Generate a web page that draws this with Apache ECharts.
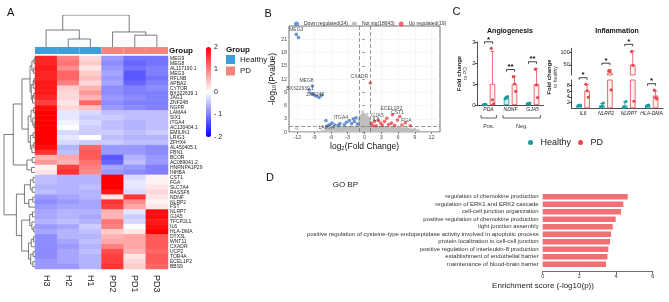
<!DOCTYPE html>
<html>
<head>
<meta charset="utf-8">
<script src="https://cdn.jsdelivr.net/npm/echarts@6/dist/echarts.min.js"></script>
<style>
  html, body { margin: 0; padding: 0; background: #fff; }
  #chart { width: 669px; height: 302px; }
</style>
</head>
<body>
<div id="chart"></div>
<script>
// ---------- Panel A: heatmap ----------
const sampleNames = ["H3", "H2", "H1", "PD2", "PD1", "PD3"];
const sampleGroups = ["Healthy", "Healthy", "Healthy", "PD", "PD", "PD"];
const geneNames = [
  "MEG9", "MEG8", "AL117190.1", "MEG3", "RFLNB", "APBA2", "CYTOR", "BX322639.1",
  "JAG1", "ZNF248", "NGFR", "LAMA4", "SIX1", "ITGA4", "AC130404.1", "EMILIN1",
  "LRIG3", "ZFHX4", "AL450405.1", "FBN1", "BCOR", "AC089041.2", "HNRNPA1P29", "INHBA",
  "CST1", "FGA", "SLC7A4", "RASSF6", "NDNF", "NLRP2", "FST", "NLRP7", "GJA5",
  "TFCP2L1", "IL6", "HLA-DMA", "DTX3L", "WNT11", "CXADR", "UCP2", "TOR4A", "ECEL1P2", "BBS9"
];
// z-scores, columns in sampleNames order
const heatValues = [
  [1.7, 1.0, 0.3, -0.8, -1.1, -1.1],
  [1.7, 1.1, 0.4, -0.9, -1.2, -1.1],
  [1.8, 0.9, 0.2, -0.8, -1.1, -1.0],
  [1.7, 1.2, 0.4, -0.7, -1.3, -1.0],
  [1.7, 1.2, 0.5, -0.8, -1.3, -1.1],
  [1.8, 1.0, 0.3, -0.7, -1.2, -1.0],
  [1.8, 0.4, 0.6, -0.9, -1.0, -0.9],
  [1.8, 0.3, 0.8, -0.9, -1.0, -1.0],
  [1.7, 0.3, 0.6, -0.8, -0.9, -1.0],
  [1.5, 0.2, 1.2, -0.9, -1.0, -1.0],
  [1.9, 0.3, 0.5, -0.8, -0.9, -1.0],
  [2.0, -0.2, -0.3, -0.5, -0.5, -0.5],
  [2.0, -0.2, -0.4, -0.4, -0.5, -0.5],
  [2.0, -0.1, -0.3, -0.5, -0.6, -0.5],
  [2.0, 0.0, -0.4, -0.5, -0.6, -0.5],
  [2.0, -0.3, -0.4, -0.4, -0.5, -0.4],
  [2.0, -0.2, 0.0, -0.5, -0.6, -0.6],
  [2.0, -0.3, -0.4, -0.4, -0.5, -0.5],
  [1.9, -0.6, 1.2, -0.8, -0.8, -0.9],
  [1.6, -0.5, 1.3, -0.8, -0.8, -0.9],
  [0.6, 0.7, 1.3, -1.3, -0.6, -0.8],
  [0.8, 0.6, 1.1, -1.2, -0.5, -0.8],
  [0.1, 1.5, 1.0, -0.7, -0.8, -1.0],
  [0.2, 1.6, 0.9, -0.8, -0.9, -1.0],
  [-0.5, -0.6, -0.6, 2.0, -0.3, 0.1],
  [-0.5, -0.6, -0.6, 2.0, -0.2, 0.1],
  [-0.6, -0.6, -0.5, 2.0, -0.2, 0.2],
  [-0.5, -0.6, -0.6, 1.8, -0.3, 0.3],
  [-0.8, -0.7, -0.6, 0.2, 1.6, 0.2],
  [-0.9, -0.8, -0.7, 1.6, 0.9, 0.1],
  [-0.8, -0.7, -0.7, 1.5, 0.7, 0.2],
  [-0.7, -0.6, -0.6, 0.6, -0.2, 1.9],
  [-0.7, -0.6, -0.7, 0.6, -0.4, 1.9],
  [-0.6, -0.5, -0.6, 1.1, -0.3, 1.8],
  [-0.8, -0.7, -0.4, 1.0, 0.0, 1.9],
  [-0.7, -0.6, -0.5, 0.4, 0.2, 2.0],
  [-0.9, -0.6, -0.6, 0.6, 0.7, 1.3],
  [-0.9, -0.7, -0.5, 0.7, 0.7, 1.3],
  [-0.9, -0.8, -0.6, 1.0, 0.7, 1.3],
  [-0.9, -0.7, -0.5, 1.4, 0.6, 1.2],
  [-0.9, -0.7, -0.6, 1.5, 0.2, 1.3],
  [-0.8, -0.7, -0.6, 1.5, 0.3, 1.3],
  [-0.8, -0.8, -0.6, 1.6, 0.4, 1.2]
];
// clustering trees: [height, left, right], leaves are row/column indices
const rowTree =
  [10,
    [7.0,
      [4.2,
        [1.6,
          [1.0, [0.3, 0, 1], [0.5, 2, 3]],
          [1.2, [0.6, [0.3, 4, 5], 6], [0.8, [0.4, 7, 8], 9]]],
        [2.2,
          [1.3, [0.5, 10, 11], [0.7, 12, [0.3, 13, 14]]],
          [1.5, [0.6, 15, 16], [1.0, [0.4, 17, 18], 19]]]],
      [2.6, [0.9, 20, 21], [1.1, 22, 23]]],
    [6.0,
      [3.4,
        [1.5, [0.6, 24, 25], [0.9, 26, 27]],
        [2.0, [0.7, 28, 29], 30]],
      [4.3,
        [1.7, [0.8, 31, 32], [1.0, 33, [0.4, 34, 35]]],
        [2.1, [1.2, [0.5, 36, 37], 38], [1.4, [0.6, 39, 40], [0.7, 41, 42]]]]]];
const colTree = [10, [5.3, 0, [2.5, 1, 2]], [4.7, 3, [3.7, 4, 5]]];

// ---------- Panel B: volcano ----------
const downPoints = [
  [-12.2, 22.1, "MEG3"], [-11.8, 21.4, ""], [-9.3, 10.4, "MEG8"], [-9.9, 9.5, "BX322639.1"],
  [-9.5, 8.7, ""], [-9.0, 8.4, ""], [-8.6, 8.1, ""], [-8.1, 7.8, "ZNF248"], [-7.7, 8.3, ""],
  [-6.6, 1.4, "LAMA4"], [-6.9, 2.6, ""], [-6.2, 1.7, ""], [-5.8, 2.0, ""], [-5.3, 1.6, ""],
  [-4.4, 1.9, "ITGA4"], [-4.7, 1.5, ""], [-3.6, 1.7, ""], [-3.2, 2.2, ""], [-2.7, 2.6, ""],
  [-2.3, 1.9, ""], [-2.0, 3.0, ""], [-1.8, 2.4, ""], [-1.5, 3.2, ""], [-1.3, 1.8, ""]
];
const upPoints = [
  [1.04, 11.1, "CXADR"], [1.2, 2.0, ""], [1.5, 1.5, "IL6"], [1.8, 2.4, ""], [2.1, 1.4, ""],
  [2.5, 2.6, "GJA5"], [2.9, 2.0, ""], [3.2, 1.5, ""], [3.6, 2.4, ""], [4.0, 3.1, ""],
  [4.3, 1.7, ""], [4.8, 2.0, ""], [5.0, 3.9, "ECEL1P2"], [5.4, 1.5, ""], [5.9, 2.7, ""],
  [6.3, 3.5, "CST1"], [6.7, 1.6, ""], [7.3, 2.1, ""], [8.2, 1.4, "FGA"]
];
// outline of the dense cloud of non-significant genes
const notSigOutline = [
  [-7.3, 0], [-7.0, 0.5], [-6.0, 0.8], [-5.0, 1.0], [-3.0, 1.2], [-1.1, 1.3], [-1.0, 3.0],
  [-0.6, 3.9], [-0.2, 4.3], [0.3, 3.7], [0.8, 3.3], [1.0, 2.6], [1.1, 1.3], [3.0, 1.2],
  [5.0, 1.1], [7.0, 0.9], [8.5, 0.6], [9.5, 0.3], [9.8, 0]
];
const notSigStray = [
  [-12.2, 0.8], [-7.6, 0.3], [-6.9, 1.0], [-4.2, 1.2], [7.6, 1.0], [9.0, 0.7], [9.6, 0.4],
  [-0.4, 4.6], [0.5, 4.1]
];
const fcCutoffs = [-1, 1];
const pCutoff = 1.3;
const volXTicks = [-12, -9, -6, -3, 0, 3, 6, 9, 12];
const volYTicks = [0, 3, 6, 9, 12, 15, 18, 21];
const volLegend = ["Down regulated(24)", "Not sig(18643)", "Up regulated(19)"];

// ---------- Panel C: qPCR bars ----------
const angioGenes = ["PDA", "NDNF", "GJA5"];
const angioHealthyMean = [0.02, 0.35, 0.07];
const angioHealthyUpper = [0.04, 0.41, 0.1];
const angioHealthyPts = [[0.01, 0.02, 0.03], [0.3, 0.35, 0.4], [0.05, 0.07, 0.09]];
const angioPDMean = [1.0, 1.0, 1.0];
const angioPDUpper = [2.55, 1.38, 1.75];
const angioPDPts = [[2.7, 0.25, 0.05], [1.35, 1.0, 0.65], [1.7, 0.95, 0.35]];
const angioSig = ["*", "**", "**"];
const angioGroupNames = ["Pos.", "Neg."];
const angioGroupFrom = [0, 1];
const angioGroupTo = [0, 2];

const inflGenes = ["IL6", "NLRP2", "NLRP7", "HLA-DMA"];
const inflHealthyMean = [1.0, 1.0, 1.0, 1.0];
const inflHealthyUpper = [1.1, 1.7, 2.2, 1.1];
const inflHealthyPts = [[0.9, 1.0, 1.1], [0.5, 0.7, 1.8], [0.3, 0.3, 2.4], [0.8, 1.0, 1.1]];
const inflPDMean = [6.2, 19.2, 50.8, 4.5];
const inflPDUpper = [8.4, 31, 105, 6.1];
const inflPDPts = [[8.5, 6.2, 3.9], [27, 24, 6.5], [102, 48, 2.5], [6.4, 3.8, 3.3]];
const inflSig = ["*", "*", "*", "*"];
const inflLowTicks = [0, 2, 4, 6, 8, 10];
const inflHighTicks = [50, 100];

// ---------- Panel D: GO BP ----------
const goTerms = [
  "regulation of chemokine production",
  "regulation of ERK1 and ERK2 cascade",
  "cell-cell junction organization",
  "positive regulation of chemokine production",
  "tight junction assembly",
  "positive regulation of cysteine-type endopeptidase activity involved in apoptotic process",
  "protein localization to cell-cell junction",
  "positive regulation of interleukin-8 production",
  "establishment of endothelial barrier",
  "maintenance of blood-brain barrier"
];
const goScores = [4.64, 4.40, 4.27, 3.98, 3.82, 3.73, 3.67, 3.58, 3.53, 3.45];

// ---------- styles ----------
const FONT = '"Liberation Sans", Arial, sans-serif';
const GROUP_COLORS = { Healthy: "#3C9FD9", PD: "#F4847C" };
const TEAL = "#1E9A9A";
const RED = "#E5484D";
const VOL_BLUE = "#4B7CC2";
const VOL_RED = "#E6474B";
const VOL_GREY = "#BEBEBE";
const BAR_W = 5.5;
const BAR_OFF = (BAR_W * 1.45) / 2;
const DOT_JITTER = [-1.2, 0, 1.2];
const volLabelOffset = {
  MEG3: [0, -5], MEG8: [-6, -5], "BX322639.1": [-9, -1], ZNF248: [-4, -3],
  LAMA4: [-1, 2], ITGA4: [1, -6], CXADR: [-11, -6], ECEL1P2: [-1, -6],
  GJA5: [-1, -5], IL6: [3, -6], CST1: [-2, -4], FGA: [-4, -5]
};

// ---------- helpers ----------
function treeSegments(node, horizontal, out) {
  if (typeof node === "number") return [node, 0];
  const [h, a, b] = node;
  const pa = treeSegments(a, horizontal, out);
  const pb = treeSegments(b, horizontal, out);
  const pts = [[pa[0], pa[1]], [pa[0], h], [pb[0], h], [pb[0], pb[1]]];
  out.push({ coords: horizontal ? pts.map((p) => [p[1], p[0]]) : pts });
  return [(pa[0] + pb[0]) / 2, h];
}

function errorBarSeries(grid, means, uppers, side, color, clip) {
  return {
    type: "custom", xAxisIndex: grid, yAxisIndex: grid, clip: clip, silent: true, z: 4,
    data: means.map((m, i) => [i, m, uppers[i]]),
    renderItem: (params, api) => {
      const p0 = api.coord([api.value(0), api.value(1)]);
      const p1 = api.coord([api.value(0), api.value(2)]);
      const x = p0[0] + side * BAR_OFF;
      const st = { stroke: color, lineWidth: 0.8 };
      return { type: "group", children: [
        { type: "line", shape: { x1: x, y1: p0[1], x2: x, y2: p1[1] }, style: st },
        { type: "line", shape: { x1: x - 1.8, y1: p1[1], x2: x + 1.8, y2: p1[1] }, style: st }
      ] };
    }
  };
}

function dotSeries(grid, pts, side, color, keep) {
  const data = [];
  pts.forEach((arr, i) => arr.forEach((v, k) => { if (keep(v)) data.push([i, v, k]); }));
  return {
    type: "custom", xAxisIndex: grid, yAxisIndex: grid, silent: true, z: 5,
    data: data,
    renderItem: (params, api) => {
      const p = api.coord([api.value(0), api.value(1)]);
      return { type: "circle",
        shape: { cx: p[0] + side * BAR_OFF + DOT_JITTER[api.value(2)], cy: p[1], r: 1.6 },
        style: { fill: color } };
    }
  };
}

function bracketSeries(grid, items, labels) {
  return {
    type: "custom", xAxisIndex: grid, yAxisIndex: grid, clip: false, silent: true, z: 6,
    data: items,
    renderItem: (params, api) => {
      const c = api.coord([api.value(0), api.value(1)]);
      const y = c[1] - 6.5;
      const xl = c[0] - BAR_OFF, xr = c[0] + BAR_OFF;
      return { type: "group", children: [
        { type: "polyline", shape: { points: [[xl, y + 2], [xl, y], [xr, y], [xr, y + 2]] },
          style: { stroke: "#111", lineWidth: 0.8, fill: "none" } },
        { type: "text", style: { text: labels[api.value(2)], x: (xl + xr) / 2, y: y + 1.5,
          align: "center", verticalAlign: "bottom", font: "bold 8px " + FONT, fill: "#111" } }
      ] };
    }
  };
}

function topOf(i, uppers, pts) {
  return Math.max(uppers[i], ...pts[i]);
}

// ---------- build ----------
const rowSegs = [];
treeSegments(rowTree, true, rowSegs);
const colSegs = [];
treeSegments(colTree, false, colSegs);

const heatData = [];
heatValues.forEach((row, r) => row.forEach((v, c) => heatData.push([c, r, v])));

const hidden = { show: false };
const noSplit = { show: false };

const grids = [
  { left: 35, top: 56, width: 133, height: 213 },   // 0 heatmap
  { left: 4, top: 56, width: 31, height: 213 },     // 1 row dendrogram
  { left: 35, top: 15, width: 133, height: 32 },    // 2 col dendrogram
  { left: 35, top: 47, width: 133, height: 7 },     // 3 group bar
  { left: 206, top: 47, width: 5, height: 90 },     // 4 colorbar axis
  { left: 289, top: 26, width: 151, height: 106, show: true, borderColor: "#333", borderWidth: 0.7 }, // 5 volcano
  { left: 477.5, top: 42, width: 66, height: 63 },  // 6 angiogenesis
  { left: 571.7, top: 80, width: 91.3, height: 28.3 }, // 7 inflammation low
  { left: 571.7, top: 48.3, width: 91.3, height: 26.7 }, // 8 inflammation high
  { left: 542.7, top: 193, width: 110, height: 75 } // 9 GO BP
].map((g) => Object.assign({ outerBoundsMode: "none", containLabel: false }, g));

const smallLabel = { fontSize: 5.5, color: "#333", fontFamily: FONT };

const xAxes = [
  { gridIndex: 0, type: "category", data: sampleNames, axisLine: hidden, axisTick: hidden, splitLine: noSplit,
    axisLabel: { rotate: -90, fontSize: 9, margin: 6, color: "#222", interval: 0 } },
  { gridIndex: 1, type: "value", min: 0, max: 10, inverse: true, show: false },
  { gridIndex: 2, type: "value", min: -0.5, max: 5.5, show: false },
  { gridIndex: 3, type: "category", data: sampleNames, show: false },
  { gridIndex: 4, type: "value", show: false },
  { gridIndex: 5, type: "value", min: -13.5, max: 13.5, interval: 1.5,
    axisLine: hidden,
    axisTick: { show: true, length: 2, customValues: volXTicks, lineStyle: { color: "#333", width: 0.6 } },
    axisLabel: { customValues: volXTicks, fontSize: 5.5, color: "#4d4d4d", margin: 2 },
    splitLine: { show: true, lineStyle: { color: "#ececec", width: 0.5 } },
    name: "log\u2082(Fold Change)", nameLocation: "middle", nameGap: 10,
    nameTextStyle: { fontSize: 8.5, color: "#111" } },
  { gridIndex: 6, type: "category", data: angioGenes,
    axisLine: { lineStyle: { color: "#222", width: 0.8 } }, axisTick: hidden, splitLine: noSplit,
    axisLabel: { fontSize: 5, fontStyle: "italic", color: "#222", margin: 2, interval: 0 } },
  { gridIndex: 7, type: "category", data: inflGenes,
    axisLine: { lineStyle: { color: "#222", width: 0.8 } }, axisTick: hidden, splitLine: noSplit,
    axisLabel: { fontSize: 5, fontStyle: "italic", color: "#222", margin: 3, interval: 0 } },
  { gridIndex: 8, type: "category", data: inflGenes, show: false },
  { gridIndex: 9, type: "value", min: 0, max: 6, interval: 2, offset: 3.7,
    axisLine: { show: true, lineStyle: { color: "#333", width: 0.7 } },
    axisTick: { show: true, length: 2.5, lineStyle: { color: "#333", width: 0.7 } },
    axisLabel: { fontSize: 5.5, color: "#333", margin: 2 }, splitLine: noSplit }
];

const yAxes = [
  { gridIndex: 0, type: "category", data: geneNames, inverse: true, position: "right",
    axisLine: hidden, axisTick: hidden, splitLine: noSplit,
    axisLabel: { fontSize: 5, margin: 2, color: "#222", interval: 0 } },
  { gridIndex: 1, type: "value", min: -0.5, max: 42.5, inverse: true, show: false },
  { gridIndex: 2, type: "value", min: 0, max: 10, show: false },
  { gridIndex: 3, type: "value", min: 0, max: 1, show: false },
  { gridIndex: 4, type: "value", min: -2, max: 2, interval: 1, position: "right",
    axisLine: hidden, axisTick: hidden, splitLine: noSplit,
    axisLabel: { fontSize: 7, color: "#222", margin: 3,
      formatter: (v) => (v < 0 ? "- " + Math.abs(v) : String(v)) } },
  { gridIndex: 5, type: "value", min: 0, max: 24, interval: 1.5,
    axisLine: hidden,
    axisTick: { show: true, length: 2, customValues: volYTicks, lineStyle: { color: "#333", width: 0.6 } },
    axisLabel: { customValues: volYTicks, fontSize: 5.5, color: "#4d4d4d", margin: 2 },
    splitLine: { show: true, lineStyle: { color: "#ececec", width: 0.5 } },
    name: "-log\u2081\u2080(Pvalue)", nameLocation: "middle", nameRotate: 90, nameGap: 11,
    nameTextStyle: { fontSize: 8.5, color: "#111" } },
  { gridIndex: 6, type: "value", min: 0, max: 3, interval: 1,
    axisLine: { show: true, lineStyle: { color: "#222", width: 0.8 } },
    axisTick: { show: true, length: 2.5, lineStyle: { color: "#222", width: 0.8 } },
    axisLabel: { fontSize: 6, color: "#222", margin: 2 }, splitLine: noSplit,
    name: "{b|Fold change}\n{s|to PD}", nameLocation: "middle", nameRotate: 90, nameGap: 9,
    nameTextStyle: { rich: {
      b: { fontSize: 6, fontWeight: "bold", color: "#222", lineHeight: 7, fontFamily: FONT },
      s: { fontSize: 5, color: "#444", lineHeight: 6, fontFamily: FONT } } } },
  { gridIndex: 7, type: "value", min: 0, max: 10, interval: 2,
    axisLine: { show: true, lineStyle: { color: "#222", width: 0.8 } },
    axisTick: { show: true, length: 2.5, lineStyle: { color: "#222", width: 0.8 } },
    axisLabel: { fontSize: 5.5, color: "#222", margin: 2 }, splitLine: noSplit },
  { gridIndex: 8, type: "value", min: 10, max: 115,
    axisLine: { show: true, lineStyle: { color: "#222", width: 0.8 } },
    axisTick: { show: true, length: 2.5, customValues: inflHighTicks, lineStyle: { color: "#222", width: 0.8 } },
    axisLabel: { customValues: inflHighTicks, fontSize: 5.5, color: "#222", margin: 2 }, splitLine: noSplit },
  { gridIndex: 9, type: "category", data: goTerms, inverse: true,
    axisLine: hidden, axisTick: hidden, splitLine: noSplit,
    axisLabel: { fontSize: 6, color: "#333", margin: 4, interval: 0 } }
];

const series = [];

// heatmap
const heatIdx = series.length;
series.push({ type: "heatmap", xAxisIndex: 0, yAxisIndex: 0, data: heatData,
  itemStyle: { borderWidth: 0 }, emphasis: { disabled: true }, progressive: 0 });

// dendrograms
series.push({ type: "lines", coordinateSystem: "cartesian2d", xAxisIndex: 1, yAxisIndex: 1,
  polyline: true, silent: true, data: rowSegs, lineStyle: { color: "#444", width: 0.7, opacity: 1 } });
series.push({ type: "lines", coordinateSystem: "cartesian2d", xAxisIndex: 2, yAxisIndex: 2,
  polyline: true, silent: true, data: colSegs, lineStyle: { color: "#444", width: 0.7, opacity: 1 } });

// group annotation bar
series.push({ type: "bar", xAxisIndex: 3, yAxisIndex: 3, barWidth: "100%", silent: true,
  data: sampleGroups.map((g) => ({ value: 1, itemStyle: { color: GROUP_COLORS[g] } })) });

// volcano
series.push({ name: volLegend[1], type: "line", xAxisIndex: 5, yAxisIndex: 5, data: notSigOutline,
  symbol: "none", silent: true, lineStyle: { color: VOL_GREY, width: 1.5 },
  areaStyle: { color: VOL_GREY, opacity: 1 }, itemStyle: { color: VOL_GREY },
  markLine: { silent: true, symbol: "none", label: { show: false },
    lineStyle: { color: "#555", type: [4, 2], width: 0.6 },
    data: fcCutoffs.map((v) => ({ xAxis: v })).concat([{ yAxis: pCutoff }]) } });
series.push({ name: volLegend[1], type: "scatter", xAxisIndex: 5, yAxisIndex: 5, data: notSigStray,
  symbolSize: 3, itemStyle: { color: VOL_GREY }, silent: true });

function volItem(p) {
  const item = { value: [p[0], p[1]] };
  if (p[2]) {
    item.label = { show: true, formatter: p[2], position: "inside",
      offset: volLabelOffset[p[2]] || [0, -5], fontSize: 5, color: "#222" };
  }
  return item;
}
series.push({ name: volLegend[0], type: "scatter", xAxisIndex: 5, yAxisIndex: 5,
  data: downPoints.map(volItem), symbolSize: 3.6, itemStyle: { color: VOL_BLUE }, z: 3 });
series.push({ name: volLegend[2], type: "scatter", xAxisIndex: 5, yAxisIndex: 5,
  data: upPoints.map(volItem), symbolSize: 3.6, itemStyle: { color: VOL_RED }, z: 3 });

// bar style
const healthyBar = { color: "rgba(30,154,154,0.22)", borderColor: TEAL, borderWidth: 0.8 };
const pdBar = { color: "rgba(229,72,77,0.08)", borderColor: RED, borderWidth: 0.8 };

// angiogenesis
series.push({ name: "Healthy", type: "bar", xAxisIndex: 6, yAxisIndex: 6, data: angioHealthyMean,
  barWidth: BAR_W, barGap: "45%", itemStyle: healthyBar, silent: true });
series.push({ name: "PD", type: "bar", xAxisIndex: 6, yAxisIndex: 6, data: angioPDMean,
  barWidth: BAR_W, barGap: "45%", itemStyle: pdBar, silent: true });
series.push(errorBarSeries(6, angioHealthyMean, angioHealthyUpper, -1, TEAL, false));
series.push(errorBarSeries(6, angioPDMean, angioPDUpper, 1, RED, false));
series.push(dotSeries(6, angioHealthyPts, -1, TEAL, () => true));
series.push(dotSeries(6, angioPDPts, 1, RED, () => true));
series.push(bracketSeries(6, angioGenes.map((g, i) => [i, topOf(i, angioPDUpper, angioPDPts), i]), angioSig));
series.push({
  type: "custom", xAxisIndex: 6, yAxisIndex: 6, clip: false, silent: true,
  data: angioGroupFrom.map((f, i) => [f, angioGroupTo[i], i]),
  renderItem: (params, api) => {
    const band = api.size([1, 0])[0];
    const a = api.coord([api.value(0), 0]);
    const b = api.coord([api.value(1), 0]);
    const xl = a[0] - band * 0.34, xr = b[0] + band * 0.36;
    const y = a[1] + 13;
    return { type: "group", children: [
      { type: "polyline", shape: { points: [[xl, y - 3], [xl, y], [xr, y], [xr, y - 3]] },
        style: { stroke: "#222", lineWidth: 0.7, fill: "none" } },
      { type: "text", style: { text: angioGroupNames[api.value(2)], x: (xl + xr) / 2, y: y + 8,
        align: "center", verticalAlign: "middle", font: "5.5px " + FONT, fill: "#333" } }
    ] };
  }
});

// inflammation (broken axis: low grid 7, high grid 8)
[7, 8].forEach((g) => {
  series.push({ name: "Healthy", type: "bar", xAxisIndex: g, yAxisIndex: g, data: inflHealthyMean,
    barWidth: BAR_W, barGap: "45%", itemStyle: healthyBar, silent: true });
  series.push({ name: "PD", type: "bar", xAxisIndex: g, yAxisIndex: g, data: inflPDMean,
    barWidth: BAR_W, barGap: "45%", itemStyle: pdBar, silent: true });
  series.push(errorBarSeries(g, inflHealthyMean, inflHealthyUpper, -1, TEAL, true));
  series.push(errorBarSeries(g, inflPDMean, inflPDUpper, 1, RED, true));
});
series.push(dotSeries(7, inflHealthyPts, -1, TEAL, (v) => v <= 10));
series.push(dotSeries(7, inflPDPts, 1, RED, (v) => v <= 10));
series.push(dotSeries(8, inflPDPts, 1, RED, (v) => v > 10));
const inflTops = inflGenes.map((g, i) => [i, topOf(i, inflPDUpper, inflPDPts), i]);
series.push(bracketSeries(7, inflTops.filter((t) => t[1] <= 10), inflSig));
series.push(bracketSeries(8, inflTops.filter((t) => t[1] > 10), inflSig));

// GO BP
series.push({ type: "bar", xAxisIndex: 9, yAxisIndex: 9, data: goScores, barWidth: 5.7,
  itemStyle: { color: "#F26F73" }, silent: true });

const txt = (x, y, text, size, extra) => Object.assign({
  type: "text", x: x, y: y, silent: true,
  style: Object.assign({ text: text, font: size + "px " + FONT, fill: "#111",
    align: "left", verticalAlign: "top" }, extra || {})
});

const graphics = [
  txt(7, 7, "A", 11),
  txt(264.5, 8.5, "B", 11),
  txt(452.5, 6, "C", 11),
  txt(266, 172.5, "D", 11),
  txt(169, 51, "Group", 8, { font: "bold 8px " + FONT, verticalAlign: "middle" }),
  txt(226, 50, "Group", 8, { font: "bold 8px " + FONT, verticalAlign: "middle" }),
  txt(510, 31, "Angiogenesis", 7, { font: "bold 7px " + FONT, align: "center", verticalAlign: "middle" }),
  txt(617, 31, "Inflammation", 7, { font: "bold 7px " + FONT, align: "center", verticalAlign: "middle" }),
  txt(332.7, 185, "GO BP", 8, { verticalAlign: "middle", fill: "#222" }),
  txt(543, 286, "Enrichment score (-log10(p))", 8, { align: "center", verticalAlign: "middle", fill: "#222" }),
  { type: "text", x: 552.5, y: 77, rotation: Math.PI / 2, silent: true,
    style: { text: "{b|Fold change}\n{s|to healthy}", align: "center", verticalAlign: "middle",
      rich: { b: { fontSize: 6, fontWeight: "bold", fill: "#222", lineHeight: 7, fontFamily: FONT, align: "center" },
              s: { fontSize: 5, fill: "#444", lineHeight: 6, fontFamily: FONT, align: "center" } } } }
];

const option = {
  animation: false,
  textStyle: { fontFamily: FONT },
  grid: grids,
  xAxis: xAxes,
  yAxis: yAxes,
  visualMap: [{
    type: "continuous", seriesIndex: heatIdx, min: -2, max: 2, calculable: false, hoverLink: false,
    left: 206, top: 47, itemWidth: 5, itemHeight: 90, padding: 0,
    inRange: { color: ["#0000FF", "#FFFFFF", "#FF0000"] }
  }],
  legend: [
    { selectedMode: false, orient: "vertical", left: 226, top: 55, itemWidth: 9, itemHeight: 9, itemGap: 2.5,
      padding: 0, textStyle: { fontSize: 8, color: "#222" },
      data: [{ name: "Healthy", icon: "rect", itemStyle: { color: GROUP_COLORS.Healthy, borderWidth: 0 } },
             { name: "PD", icon: "rect", itemStyle: { color: GROUP_COLORS.PD, borderWidth: 0 } }] },
    { selectedMode: false, left: 294, top: 21.5, itemWidth: 5, itemHeight: 5, itemGap: 4, padding: 0,
      textStyle: { fontSize: 5, color: "#333" },
      data: [{ name: volLegend[0], icon: "circle", itemStyle: { color: VOL_BLUE } },
             { name: volLegend[1], icon: "circle", itemStyle: { color: VOL_GREY } },
             { name: volLegend[2], icon: "circle", itemStyle: { color: VOL_RED } }] },
    { selectedMode: false, left: 528, top: 138, itemWidth: 10, itemHeight: 5, itemGap: 7, padding: 0,
      textStyle: { fontSize: 9, color: "#222" },
      data: [{ name: "Healthy", icon: "circle", itemStyle: { color: TEAL, borderWidth: 0 } },
             { name: "PD", icon: "circle", itemStyle: { color: RED, borderWidth: 0 } }] }
  ],
  graphic: graphics,
  series: series
};

const chart = echarts.init(document.getElementById("chart"));
chart.setOption(option);
</script>
</body>
</html>
